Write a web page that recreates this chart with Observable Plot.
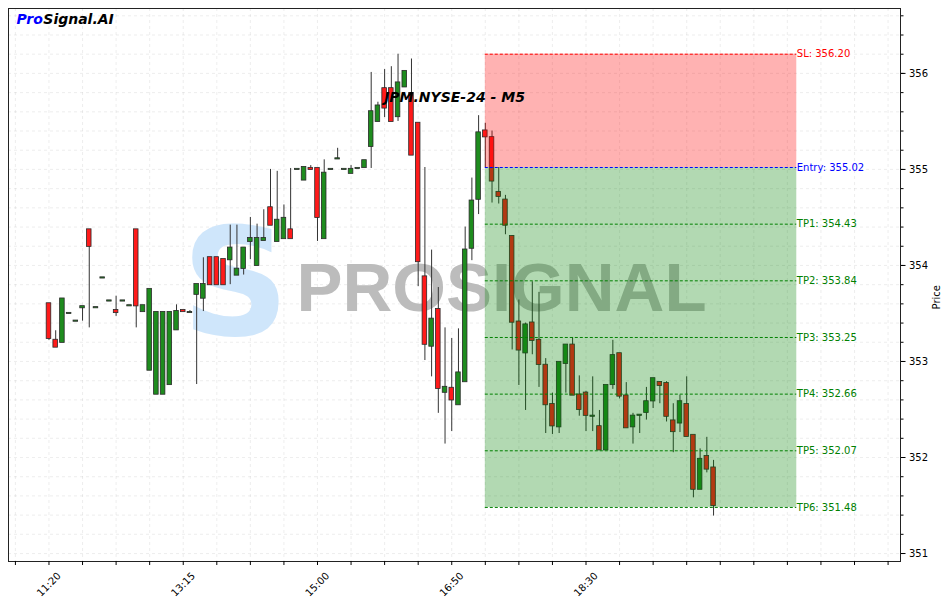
<!DOCTYPE html>
<html><head><meta charset="utf-8">
<script src="https://cdn.jsdelivr.net/npm/d3@7"></script>
<script src="https://cdn.jsdelivr.net/npm/@observablehq/plot@0.6"></script>
<style>
body{margin:0;background:#fff}
#chart svg{font-family:"DejaVu Sans",sans-serif;background:#fff}
</style>
</head><body><div id="chart"></div>
<script>
const opens = [353.60,353.22,353.20,353.50,353.42,353.56,354.37,353.56,353.87,353.63,
353.53,353.63,353.58,354.37,353.52,352.91,352.66,352.66,352.76,353.33,
353.53,353.51,353.70,353.66,354.08,354.08,354.06,354.06,353.90,353.97,
354.25,354.00,354.26,354.60,354.25,354.28,354.37,355.00,354.89,355.01,
355.01,354.28,355.00,355.11,355.00,354.96,355.01,355.02,355.24,355.50,
355.84,355.84,355.55,355.86,355.79,355.48,353.88,353.16,353.54,352.68,
352.72,352.55,352.79,354.18,354.69,355.40,355.33,354.76,354.68,354.30,
353.41,353.09,353.40,353.22,352.96,352.55,352.32,352.98,353.17,352.65,
352.67,352.43,352.32,352.08,352.76,353.08,352.64,352.32,352.44,352.47,
352.59,352.78,352.77,352.38,352.36,352.55,352.23,351.67,352.01,351.89];
const highs = [353.60,353.32,353.65,353.50,353.42,353.57,354.37,353.56,353.87,353.63,
353.68,353.63,353.58,354.37,353.58,353.75,353.51,353.51,353.51,353.59,
353.53,353.53,353.80,354.08,354.08,354.08,354.06,354.42,354.42,354.18,
354.50,354.43,354.58,355.00,354.98,354.63,355.01,355.00,355.02,355.04,
355.01,355.10,355.00,355.22,355.00,355.04,355.01,355.09,356.01,355.70,
356.04,356.07,356.20,356.02,356.15,355.48,355.02,354.16,353.77,353.35,
353.24,353.34,354.40,354.91,355.56,355.48,355.40,355.02,354.73,354.31,
353.64,353.40,353.83,353.72,353.03,352.67,352.99,353.17,353.25,352.85,
352.69,352.84,352.49,352.75,353.22,353.08,352.78,352.46,352.44,352.73,
352.82,352.79,352.79,352.56,352.65,352.84,352.23,352.09,352.21,351.97];
const lows = [353.22,353.15,353.20,353.50,353.42,353.42,353.35,353.56,353.87,353.63,
353.47,353.63,353.58,353.35,353.52,352.91,352.66,352.66,352.76,353.33,
353.52,353.51,352.76,353.52,353.80,353.80,353.80,353.80,353.90,353.90,
354.06,354.00,354.26,354.42,354.25,354.28,354.28,355.00,354.89,355.00,
354.25,354.28,355.00,355.11,355.00,354.96,355.01,355.02,355.01,355.50,
355.54,355.50,355.50,355.86,355.15,353.78,353.01,352.84,352.46,352.14,
352.27,352.55,352.79,354.05,354.53,355.02,354.65,354.64,354.32,353.12,
352.75,352.49,353.07,352.73,352.25,352.24,352.25,352.67,352.65,352.43,
352.27,352.27,352.08,352.08,352.71,352.61,352.31,352.14,352.25,352.39,
352.51,352.56,352.37,352.05,352.26,352.22,351.58,351.67,351.84,351.39];
const closes = [353.24,353.15,353.65,353.50,353.42,353.57,354.20,353.56,353.87,353.63,
353.51,353.63,353.58,353.58,353.58,353.75,353.51,353.51,353.51,353.52,
353.52,353.51,353.80,353.80,353.80,353.80,353.80,354.18,353.96,354.18,
354.28,354.28,354.28,354.42,354.47,354.49,354.28,355.00,355.02,355.00,
354.50,354.96,355.00,355.11,355.00,355.00,355.01,355.09,355.60,355.66,
355.64,355.50,355.90,356.02,355.15,354.04,353.18,353.44,352.72,352.73,
352.60,352.88,354.16,354.67,355.38,355.34,354.88,354.72,354.42,353.41,
353.12,353.38,353.22,352.97,352.55,352.33,352.99,353.17,352.65,352.50,
352.44,352.43,352.08,352.75,353.06,352.64,352.31,352.43,352.44,352.58,
352.82,352.75,352.43,352.27,352.58,352.22,351.67,351.98,351.88,351.50];

const tickIndex  = [0, 20, 40, 60, 80, 100, 120];
const tickLabels = ["11:20", "13:15", "15:00", "16:50", "18:30", "", ""];

const levelNames  = ["SL", "Entry", "TP1", "TP2", "TP3", "TP4", "TP5", "TP6"];
const levelValues = [356.20, 355.02, 354.43, 353.84, 353.25, 352.66, 352.07, 351.48];
const levelColors = ["red", "blue", "green", "green", "green", "green", "green", "green"];
const zoneStart = 65;
const zoneEnd = 111.4;

const chartTitle = "JPM.NYSE-24 - M5";
const brandA = "Pro", brandB = "Signal.AI";
const watermark = "PROSIGNAL";
const yLabel = "Price";

// tables built from the arrays
const candles = opens.map((o, i) => ({i, o, h: highs[i], l: lows[i], c: closes[i], up: closes[i] >= o}));
const levels = levelNames.map((n, k) => ({name: n, value: levelValues[k], color: levelColors[k],
  label: `${n}: ${levelValues[k].toFixed(2)}`}));
const entry = levelValues[1], sl = levelValues[0], lastTP = levelValues[levelValues.length - 1];
const zones = [
  {x1: zoneStart, x2: zoneEnd, y1: entry, y2: sl, fill: "red"},
  {x1: zoneStart, x2: zoneEnd, y1: lastTP, y2: entry, fill: "green"}
];
const labelMap = new Map(tickIndex.map((t, k) => [t, tickLabels[k]]));
const xTicks = d3.range(-5, 126, 5);
const yMinor = d3.range(0, 29).map(k => +(351 + k * 0.2).toFixed(1));
const yMajor = d3.range(351, 357);

const plot = Plot.plot({
  width: 947, height: 603,
  marginLeft: 8, marginRight: 47, marginTop: 8, marginBottom: 42,
  x: {domain: [-6.03, 126.85]},
  y: {domain: [350.917, 356.676]},
  color: {type: "identity"},
  style: {fontFamily: "DejaVu Sans, sans-serif", fontSize: "10px", color: "#000"},
  marks: [
    Plot.gridX({ticks: xTicks, stroke: "#bbb", strokeOpacity: 0.25, strokeDasharray: "3,3"}),
    Plot.gridY({ticks: yMinor, stroke: "#bbb", strokeOpacity: 0.25, strokeDasharray: "3,3"}),
    Plot.text([watermark], {frameAnchor: "middle", dx: 47, dy: 4, fontSize: 69, fontWeight: "bold",
      fontFamily: "Liberation Sans, Arial, sans-serif", fill: "#bcbcbc", text: d => d}),
    Plot.text(["S"], {frameAnchor: "middle", dx: -219, dy: 2, fontSize: 150, fontWeight: "bold",
      fontFamily: "DejaVu Sans, sans-serif", fill: "#cfe6fb", text: d => d}),
    Plot.ruleX(candles, {x: "i", y1: "l", y2: "h", stroke: "#333", strokeWidth: 1}),
    Plot.rect(candles, {x1: d => d.i - 0.34, x2: d => d.i + 0.34,
      y1: d => Math.min(d.o, d.c), y2: d => Math.max(d.o, d.c),
      insetTop: -0.6, insetBottom: -0.6,
      fill: d => d.up ? "#1e8c1e" : "#ff1a1a", stroke: "#2a2a2a", strokeWidth: 0.8}),
    Plot.rect(zones, {x1: "x1", x2: "x2", y1: "y1", y2: "y2", fill: "fill", fillOpacity: 0.3}),
    Plot.ruleY(levels, {y: "value", x1: zoneStart, x2: zoneEnd, stroke: d => d.color, strokeWidth: 1, strokeDasharray: "3,2"}),
    Plot.text(levels, {x: zoneEnd, y: "value", text: "label", fill: d => d.color, textAnchor: "start", fontSize: 10}),
    Plot.text([chartTitle], {frameAnchor: "top", dy: 89, text: d => d, fontSize: 14, fontWeight: "bold",
      fontStyle: "italic", lineAnchor: "middle", fill: "#000"}),
    Plot.text([brandA], {frameAnchor: "top-left", dx: 8, dy: 11, text: d => d, fontSize: 14, fontWeight: "bold",
      fontStyle: "italic", lineAnchor: "middle", fill: "blue", textAnchor: "start"}),
    Plot.text([brandB], {frameAnchor: "top-left", dx: 34.8, dy: 11, text: d => d, fontSize: 14, fontWeight: "bold",
      fontStyle: "italic", lineAnchor: "middle", fill: "#000", textAnchor: "start"}),
    Plot.frame({stroke: "#222", strokeWidth: 1}),
    Plot.axisY({anchor: "right", ticks: yMajor, tickSize: 4.5, tickPadding: 4, tickFormat: "d", label: null, fontSize: 10}),
    Plot.axisY({anchor: "right", ticks: yMinor, tickSize: 2.5, tickFormat: () => "", label: null}),
    Plot.text([yLabel], {frameAnchor: "right", dx: 36, rotate: -90, text: d => d, fontSize: 10, fill: "#000"}),
    Plot.axisX({ticks: xTicks, tickSize: 4, tickPadding: 19, tickRotate: -45, textAnchor: "middle",
      lineAnchor: "middle", tickFormat: d => labelMap.get(d) ?? "", label: null, fontSize: 10})
  ]
});
document.getElementById("chart").appendChild(plot);
</script>
</body></html>
